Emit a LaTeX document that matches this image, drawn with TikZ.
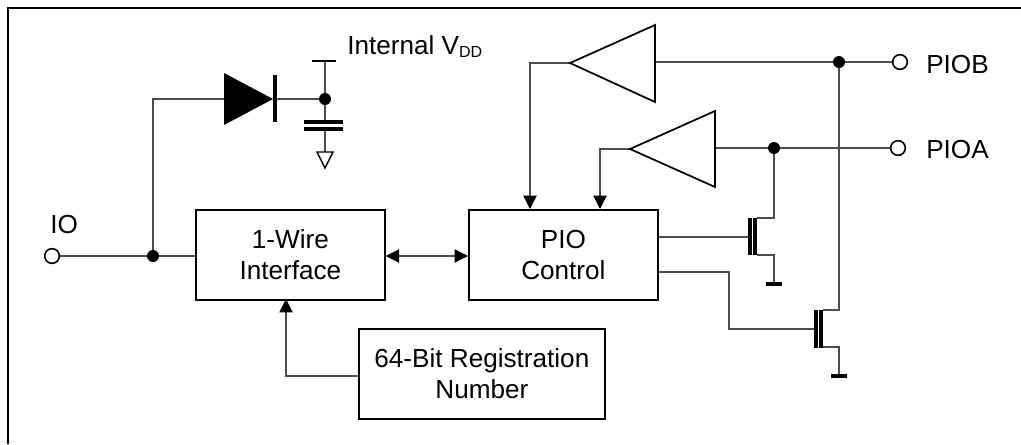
\documentclass[tikz,border=0pt]{standalone}
\usepackage{fontspec}
\setmainfont{Liberation Sans}
\usetikzlibrary{arrows.meta,calc}
\newcommand{\subDD}{\raisebox{-2.3pt}{\fontsize{12pt}{14pt}\selectfont DD}}
\tikzset{
  x=0.75pt,y=-0.75pt,
  wire/.style={line width=0.8pt,draw=black!70},
  blockbox/.style={draw=black,line width=1.3pt,fill=white,inner sep=0pt,align=center,font=\fontsize{19.6pt}{23.5pt}\selectfont,anchor=north west},
  thick part/.style={draw=black,line width=1.3pt,line join=miter},
  dotn/.style={circle,fill=black,inner sep=0pt,minimum size=9pt},
  port/.style={circle,draw=black,fill=white,line width=1.2pt,inner sep=0pt,minimum size=11pt},
  lbl/.style={font=\fontsize{19.6pt}{23.5pt}\selectfont,inner sep=0pt,anchor=base west},
  arr/.style={wire,-{Triangle[length=10pt,width=10pt,color=black]}},
  darr/.style={wire,{Triangle[length=10pt,width=10pt,color=black]}-{Triangle[length=10pt,width=10pt,color=black]}},
  bar/.style={fill=black,draw=none},
}
\begin{document}
\begin{tikzpicture}
\useasboundingbox (0,0) rectangle (1021,444);
\fill[white] (0,0) rectangle (1021,444);
% frame
\draw[draw=black,line width=1.3pt] (8,444) -- (8,8) -- (1021,8);

% blocks
\node[blockbox,minimum width=141.75pt,minimum height=67.5pt] (wire) at (195,209) {1-Wire\\Interface};
\node[blockbox,minimum width=141.75pt,minimum height=67.5pt] (pio) at (468,209) {PIO\\Control};
\node[blockbox,minimum width=184.5pt,minimum height=67.5pt] (rom) at (358,328) {64-Bit Registration\\Number};

% ports and junctions
\node[port] (io) at (52,256) {};
\node[port] (piob) at (900,62) {};
\node[port] (pioa) at (898,148) {};
\node[dotn] (jio) at (153,256) {};
\node[dotn] (jvdd) at (325,99) {};
\node[dotn] (jb) at (839,62) {};
\node[dotn] (ja) at (774,148) {};

% labels
\node[lbl] (tio) at (50,233) {IO};
\node[lbl] (tpiob) at (926,73) {PIOB};
\node[lbl] (tpioa) at (926,158) {PIOA};
\node[lbl] (tvdd) at (347,54) {Internal V\subDD};

% named points on the symbols
\coordinate (dA) at (224,99);
\coordinate (dK) at (275,99);
\coordinate (vt) at (325,61);
\coordinate (capT) at (325,122);
\coordinate (capB) at (325,130);
\coordinate (gnd) at (325,152);
\coordinate (a1o) at (570,63);
\coordinate (a1i) at (655,62);
\coordinate (a2o) at (630,149);
\coordinate (a2i) at (715,148);
\coordinate (q1g) at (748,237);
\coordinate (q1d) at (757,218);
\coordinate (q1s) at (757,255);
\coordinate (q1gnd) at (774,284);
\coordinate (q2g) at (814,329);
\coordinate (q2d) at (823,310);
\coordinate (q2s) at (823,347);
\coordinate (q2gnd) at (839,376);

% wires
\draw[wire] (io) -- (jio) -- (wire.west |- jio);
\draw[wire] (jio) |- (dA);
\draw[wire] (dK) -- (jvdd);
\draw[wire] (vt) -- (jvdd) -- (capT);
\draw[wire] (capB) -- (gnd);
\draw[darr] (wire.east |- 0,256) -- (pio.west |- 0,256);
\draw[arr] (rom.west |- 0,376) -| (286,299);
\draw[arr] (a1o) -| (530,209);
\draw[arr] (a2o) -| (600,209);
\draw[wire] (a1i) -- (jb) -- (piob);
\draw[wire] (a2i) -- (ja) -- (pioa);
\draw[wire] (jb) |- (q2d);
\draw[wire] (ja) |- (q1d);
\draw[wire] (q1s) -| (q1gnd);
\draw[wire] (q2s) -| (q2gnd);
\draw[wire] (pio.east |- q1g) -- (q1g);
\draw[wire] (pio.east |- 0,272) -| (729,329) -- (q2g);

% symbols
\fill[black] (224,73) -- (273,99) -- (224,125) -- cycle;
\fill[bar] (273,75) rectangle (277,122);
\draw[thick part,line width=0.8pt] (312,61) -- (336,61);
\fill[bar] (304,120) rectangle (343,124);
\fill[bar] (304,127) rectangle (343,131);
\draw[thick part,fill=white,line width=1.1pt] (317,152) -- (333,152) -- (325,168) -- cycle;
\draw[thick part,fill=white] (a1o) -- (655,25) -- (655,102) -- cycle;
\draw[thick part,fill=white] (a2o) -- (715,111) -- (715,187) -- cycle;
\fill[bar] (748,218) rectangle (752,255);
\fill[bar] (753,218) rectangle (757,255);
\fill[bar] (766,282) rectangle (782,286);
\fill[bar] (814,310) rectangle (818,348);
\fill[bar] (819,310) rectangle (823,348);
\fill[bar] (831,374) rectangle (847,378);
\end{tikzpicture}
\end{document}
